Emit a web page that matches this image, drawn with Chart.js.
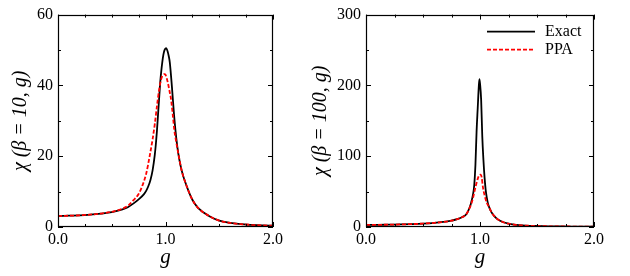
<!DOCTYPE html>
<html>
<head>
<meta charset="utf-8">
<script src="https://cdn.jsdelivr.net/npm/chart.js@4"></script>
<style>
  html, body { margin: 0; padding: 0; background: #fff; }
  #wrap { position: relative; width: 630px; height: 276px; overflow: hidden; }
  #wrap canvas { position: absolute; top: 0; }
  #chartLow { left: 0; }
  #chartHigh { left: 300px; }
</style>
</head>
<body>
<div id="wrap">
  <canvas id="chartLow" width="315" height="276"></canvas>
  <canvas id="chartHigh" width="330" height="276"></canvas>
</div>
<script>
// beta = 10 panel
const gExact10 = [0, 0.1, 0.2, 0.3, 0.4, 0.5, 0.6, 0.65, 0.7, 0.75, 0.8, 0.82, 0.84, 0.86, 0.88, 0.9, 0.91, 0.92, 0.93, 0.94, 0.95, 0.96, 0.97, 0.98, 0.99, 1.005, 1.02, 1.03, 1.04, 1.06, 1.08, 1.1, 1.12, 1.15, 1.2, 1.25, 1.3, 1.4, 1.5, 1.6, 1.7, 1.8, 1.9, 2.0];
const chiExact10 = [3.1, 3.2, 3.3, 3.5, 3.8, 4.2, 5.0, 5.6, 6.6, 7.8, 9.3, 10.2, 11.5, 13.3, 16, 20.3, 23.3, 27, 31.5, 36, 40.5, 43.8, 46.5, 48.6, 49.9, 50.5, 49.6, 48.3, 46.5, 39.5, 31.5, 25.2, 20.6, 16, 11.3, 7.7, 5.5, 3.2, 1.8, 1.15, 0.8, 0.6, 0.45, 0.35];
const gPpa10 = [0, 0.2, 0.4, 0.5, 0.6, 0.65, 0.7, 0.75, 0.78, 0.82, 0.856, 0.88, 0.9, 0.92, 0.94, 0.96, 0.975, 0.99, 1.0, 1.02, 1.04, 1.051, 1.07, 1.082, 1.1, 1.12, 1.15, 1.2, 1.25, 1.3, 1.4, 1.5, 1.6, 1.7, 1.8, 1.9, 2.0];
const chiPpa10 = [3.1, 3.3, 3.8, 4.3, 5.2, 6.0, 7.5, 9.3, 11.3, 15, 20.6, 24.8, 29, 34, 38.6, 41.8, 42.9, 43.2, 43, 41, 38, 36.2, 31, 27.4, 24, 20.6, 16, 11.3, 7.7, 5.5, 3.2, 1.8, 1.15, 0.8, 0.6, 0.45, 0.35];

// beta = 100 panel
const gExact100 = [0, 0.1, 0.2, 0.3, 0.4, 0.5, 0.6, 0.7, 0.75, 0.8, 0.85, 0.88, 0.9, 0.92, 0.94, 0.95, 0.96, 0.97, 0.98, 0.99, 0.995, 1.0, 1.01, 1.02, 1.03, 1.04, 1.05, 1.06, 1.07, 1.08, 1.1, 1.12, 1.15, 1.2, 1.25, 1.3, 1.4, 1.5, 1.6, 1.7, 1.8, 1.9, 2.0];
const chiExact100 = [2.9, 3.0, 3.3, 3.6, 4.1, 4.8, 5.9, 7.6, 9.0, 11.0, 14.5, 18, 24, 33, 47, 60, 88, 135, 168, 200, 209, 203, 180, 128, 95, 70, 52, 41, 33, 28, 21, 16.5, 11.5, 7.0, 4.6, 3.3, 2.0, 1.4, 1.0, 0.8, 0.65, 0.55, 0.5];
const gPpa100 = [0, 0.1, 0.2, 0.3, 0.4, 0.5, 0.6, 0.7, 0.75, 0.8, 0.85, 0.88, 0.9, 0.92, 0.93, 0.94, 0.96, 0.98, 0.995, 1.005, 1.015, 1.025, 1.04, 1.06, 1.08, 1.1, 1.12, 1.15, 1.2, 1.25, 1.3, 1.4, 1.5, 1.6, 1.7, 1.8, 1.9, 2.0];
const chiPpa100 = [2.9, 3.0, 3.3, 3.6, 4.1, 4.8, 5.9, 7.6, 9.0, 11.0, 14.5, 18, 24, 31, 36, 42, 56, 68, 73.5, 74, 70, 57, 45, 34, 28, 21, 16.5, 11.5, 7.0, 4.6, 3.3, 2.0, 1.4, 1.0, 0.8, 0.65, 0.55, 0.5];

// tick labels
const xMajor = [0, 1, 2];
const yMajor10 = [0, 20, 40, 60];
const yMajor100 = [0, 100, 200, 300];

const serif = '"Liberation Serif", "DejaVu Serif", serif';

function pairs(xs, ys) {
  return xs.map((x, i) => ({ x: x, y: ys[i] }));
}

// box round the plot with inward ticks on all four sides
const frameTicks = {
  id: 'frameTicks',
  afterDatasetsDraw(chart) {
    const { ctx, chartArea: a, scales: { x, y } } = chart;
    ctx.save();
    ctx.strokeStyle = '#000';
    ctx.lineWidth = 1;
    ctx.beginPath();
    x.ticks.forEach(t => {
      const px = Math.round(x.getPixelForValue(t.value)) + 0.5;
      const len = t.label ? 5 : 3;
      ctx.moveTo(px, a.bottom); ctx.lineTo(px, a.bottom - len);
      ctx.moveTo(px, a.top); ctx.lineTo(px, a.top + len);
    });
    y.ticks.forEach(t => {
      const py = Math.round(y.getPixelForValue(t.value)) + 0.5;
      const len = t.label ? 5 : 3;
      ctx.moveTo(a.left, py); ctx.lineTo(a.left + len, py);
      ctx.moveTo(a.right, py); ctx.lineTo(a.right - len, py);
    });
    ctx.stroke();
    ctx.lineWidth = 1.2;
    ctx.strokeRect(Math.round(a.left) + 0.5, Math.round(a.top) + 0.5,
      Math.round(a.right - a.left) - 1, Math.round(a.bottom - a.top) - 1);
    ctx.restore();
  }
};

// legend inside the plot, line sample then label
const lineLegend = {
  id: 'lineLegend',
  afterDraw(chart, args, o) {
    const { ctx, chartArea: a } = chart;
    ctx.save();
    ctx.font = '16px ' + serif;
    ctx.textBaseline = 'middle';
    chart.data.datasets.forEach((ds, i) => {
      const yy = a.top + o.top + i * o.gap;
      ctx.strokeStyle = ds.borderColor;
      ctx.lineWidth = 1.6;
      ctx.setLineDash(ds.borderDash || []);
      ctx.beginPath();
      ctx.moveTo(a.right - o.lineStart, yy);
      ctx.lineTo(a.right - o.lineEnd, yy);
      ctx.stroke();
      ctx.setLineDash([]);
      ctx.fillStyle = '#000';
      ctx.fillText(ds.label, a.right - o.textStart, yy);
    });
    ctx.restore();
  }
};

function makeChart(id, cfg) {
  return new Chart(document.getElementById(id), {
    type: 'line',
    data: {
      datasets: [{
        label: 'Exact',
        data: pairs(cfg.gExact, cfg.chiExact),
        borderColor: '#000000',
        borderWidth: 1.8,
        order: 2
      }, {
        label: 'PPA',
        data: pairs(cfg.gPpa, cfg.chiPpa),
        borderColor: '#ff0000',
        borderWidth: 1.8,
        borderDash: [4, 2],
        order: 1
      }]
    },
    options: {
      responsive: false,
      animation: false,
      layout: { padding: { top: 12, right: cfg.padRight, bottom: 0, left: 0 } },
      elements: {
        point: { radius: 0 },
        line: { cubicInterpolationMode: 'monotone', fill: false }
      },
      plugins: {
        legend: { display: false },
        tooltip: { enabled: false },
        lineLegend: { top: 17, gap: 18, lineStart: 107, lineEnd: 59, textStart: 49 }
      },
      scales: {
        x: {
          type: 'linear',
          min: 0,
          max: 2,
          afterFit(s) { s.height = 49; },
          grid: { display: false, drawTicks: false },
          border: { display: false },
          ticks: {
            stepSize: 0.25,
            autoSkip: false,
            maxRotation: 0,
            padding: 3,
            color: '#000',
            font: { family: serif, size: 16 },
            callback: v => xMajor.includes(v) ? v.toFixed(1) : ''
          },
          title: {
            display: true,
            text: 'g',
            color: '#000',
            font: { family: serif, size: 21, style: 'italic' },
            padding: { top: 0, bottom: 6 }
          }
        },
        y: {
          min: 0,
          max: cfg.yMax,
          afterFit(s) { s.width = cfg.yWidth; },
          grid: { display: false, drawTicks: false },
          border: { display: false },
          ticks: {
            stepSize: cfg.yStep,
            autoSkip: false,
            padding: 5,
            color: '#000',
            font: { family: serif, size: 16 },
            callback: v => cfg.yMajor.includes(v) ? String(v) : ''
          },
          title: {
            display: true,
            text: cfg.yTitle,
            color: '#000',
            font: { family: serif, size: 20, style: 'italic' },
            padding: { top: 9, bottom: 0 }
          }
        }
      }
    },
    plugins: cfg.legend ? [frameTicks, lineLegend] : [frameTicks]
  });
}

makeChart('chartLow', {
  gExact: gExact10, chiExact: chiExact10, gPpa: gPpa10, chiPpa: chiPpa10,
  yMax: 60, yStep: 10, yMajor: yMajor10,
  yTitle: 'χ (β = 10, g)',
  yWidth: 58, padRight: 42, legend: false
});

makeChart('chartHigh', {
  gExact: gExact100, chiExact: chiExact100, gPpa: gPpa100, chiPpa: chiPpa100,
  yMax: 300, yStep: 50, yMajor: yMajor100,
  yTitle: 'χ (β = 100, g)',
  yWidth: 66, padRight: 36, legend: true
});
</script>
</body>
</html>
